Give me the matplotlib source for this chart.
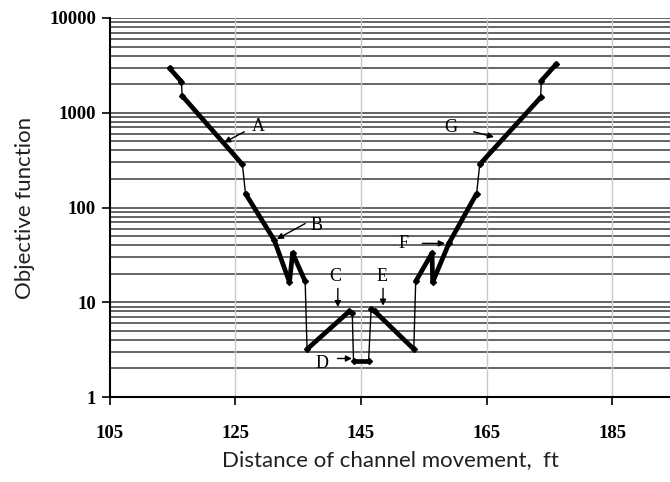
# objective function vs channel movement (log scale)

import matplotlib
matplotlib.use("Agg")
import matplotlib.pyplot as plt

# Curve vertices
distance = [114.5, 116.4, 116.5, 126.1, 126.6, 131.2, 133.6, 134.1, 136.1, 136.4,
            143.1, 143.6, 143.8, 146.2, 146.6, 147.2, 153.4, 153.7, 156.3, 156.4,
            159.0, 163.4, 163.9, 173.6, 173.7, 176.1]
objective = [2950, 2130, 1510, 285, 140, 45, 16.3, 33, 16.6, 3.2,
             8.0, 7.7, 2.4, 2.4, 8.4, 8.0, 3.2, 16.6, 33, 16.3,
             42, 140, 285, 1450, 2170, 3270]
# segment after each vertex: densely sampled (thick) or a jump (thin)
dense = [1, 0, 1, 0, 1, 1, 1, 1, 0, 1,
         1, 0, 1, 0, 1, 1, 0, 1, 1, 1,
         1, 0, 1, 0, 1]

x_ticks = [105, 125, 145, 165, 185]
y_ticks = [1, 10, 100, 1000, 10000]

fig = plt.figure(figsize=(6.7, 4.82), dpi=100)
ax = fig.add_axes([0.164, 0.1763, 0.836, 0.7864])
ax.set_yscale("log")
ax.set_xlim(105, 194.2)
ax.set_ylim(1, 10000)

# gridlines: every integer step within each decade, light verticals
for dec in [1, 10, 100, 1000]:
    for k in range(2, 11):
        ax.axhline(dec * k, color="#4a4a4a", lw=1.2, zorder=1)
for xv in x_ticks[1:]:
    ax.axvline(xv, color="#c8c8c8", lw=1.0, zorder=1)

# the curve
for i in range(len(distance) - 1):
    lw = 3.4 if dense[i] else 1.0
    ax.plot(distance[i:i + 2], objective[i:i + 2], color="black", lw=lw,
            solid_capstyle="round", zorder=3)
ax.plot(distance, objective, ls="none", marker="D", ms=3, color="black", zorder=4)

# labelled arrows
ap = dict(arrowstyle="-|>", color="black", lw=1.0, mutation_scale=9)
tf = dict(fontsize=13, family="Liberation Serif", ha="center", va="center")
ax.annotate("", xy=(122.8, 470), xytext=(126.8, 650), arrowprops=ap)
ax.text(128.6, 710, "A", **tf)
ax.annotate("", xy=(131.2, 45), xytext=(136.5, 70), arrowprops=ap)
ax.text(137.9, 64, "B", **tf)
ax.annotate("", xy=(141.3, 8.3), xytext=(141.3, 15.0), arrowprops=ap)
ax.text(140.9, 18.5, "C", **tf)
ax.annotate("", xy=(144.0, 2.55), xytext=(140.8, 2.55), arrowprops=ap)
ax.text(138.8, 2.25, "D", **tf)
ax.annotate("", xy=(148.5, 8.6), xytext=(148.5, 15.0), arrowprops=ap)
ax.text(148.3, 18.5, "E", **tf)
ax.annotate("", xy=(158.8, 41.8), xytext=(154.3, 41.8), arrowprops=ap)
ax.text(151.8, 41.8, "F", **tf)
ax.annotate("", xy=(166.6, 545), xytext=(162.5, 640), arrowprops=ap)
ax.text(159.3, 700, "G", **tf)

# axes styling
ax.set_xticks(x_ticks)
ax.set_yticks(y_ticks)
ax.set_yticks([], minor=True)
ax.set_xticklabels([str(v) for v in x_ticks])
ax.set_yticklabels([str(v) for v in y_ticks])
for lab in ax.get_xticklabels() + ax.get_yticklabels():
    lab.set_family("Liberation Serif")
    lab.set_fontweight("bold")
    lab.set_fontsize(13.5)
ax.tick_params(axis="both", which="major", direction="out", length=6, width=1.2)
ax.tick_params(axis="x", pad=14)
ax.tick_params(axis="y", pad=4)
for s in ["top", "right"]:
    ax.spines[s].set_visible(False)
for s in ["left", "bottom"]:
    ax.spines[s].set_linewidth(1.5)

ax.set_xlabel("Distance of channel movement,  ft", family="Lato", fontsize=16,
              color="#202020", labelpad=6)
ax.set_ylabel("Objective function", family="Lato", fontsize=16, color="#202020",
              labelpad=10)

plt.savefig("out.png", dpi=100)
